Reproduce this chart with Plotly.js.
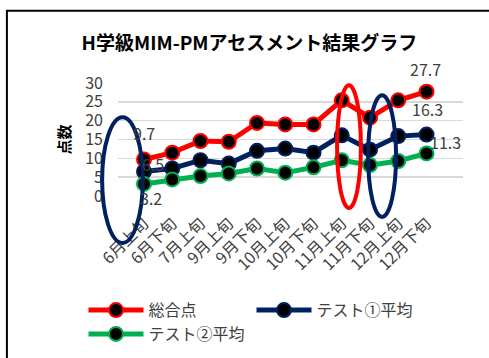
<!DOCTYPE html>
<html>
<head>
<meta charset="utf-8">
<script src="https://cdn.plot.ly/plotly-3.0.1.min.js"></script>
<style>html,body{margin:0;padding:0;background:#fff;}#chart{width:489px;height:358px;}</style>
</head>
<body>
<div id="chart"></div>
<script>
const categories = ["6月上旬","6月下旬","7月上旬","9月上旬","9月下旬","10月上旬","10月下旬","11月上旬","11月下旬","12月上旬","12月下旬"];
const seriesNames = ["総合点","テスト①平均","テスト②平均"];
const totalScore = [9.7, 11.5, 14.6, 14.4, 19.4, 19.0, 19.0, 25.4, 20.8, 25.4, 27.7];
const test1Avg = [6.5, 7.3, 9.5, 8.6, 12.0, 12.6, 11.5, 16.1, 12.3, 15.9, 16.3];
const test2Avg = [3.2, 4.4, 5.3, 6.0, 7.3, 6.2, 7.6, 9.5, 8.2, 9.3, 11.3];
const yTicks = [0, 5, 10, 15, 20, 25, 30];

const FONT = '"Noto Sans CJK JP", "Noto Sans", sans-serif';
const colors = ["#ff0000", "#002060", "#00b050"];
const allSeries = [totalScore, test1Avg, test2Avg];

const traces = allSeries.map((vals, i) => ({
  type: 'scatter', mode: 'lines+markers',
  name: seriesNames[i], x: categories, y: vals,
  line: {color: colors[i], width: 5},
  marker: {color: '#000000', size: 14, line: {color: colors[i], width: 2}},
  cliponaxis: false
}));

// data labels at first and last points (shift in px, up = positive)
const labelOffsets = [
  [{dx: 0, dy: 26}, {dx: -1, dy: 23}],
  [{dx: 9, dy: 8}, {dx: 1, dy: 26}],
  [{dx: 7, dy: -14}, {dx: 19, dy: 11}]
];
const annotations = [];
allSeries.forEach((vals, i) => {
  [0, vals.length - 1].forEach((idx, k) => {
    annotations.push({
      x: categories[idx], y: vals[idx], xref: 'x', yref: 'y',
      text: vals[idx].toFixed(1), showarrow: false,
      xshift: labelOffsets[i][k].dx, yshift: labelOffsets[i][k].dy,
      font: {family: FONT, size: 16, color: '#404040'}
    });
  });
});

const layout = {
  width: 489, height: 358,
  paper_bgcolor: '#ffffff', plot_bgcolor: '#ffffff',
  margin: {l: 118, r: 26, t: 83, b: 162, autoexpand: false},
  showlegend: true,
  title: {
    text: '<b>H学級MIM-PMアセスメント結果グラフ</b>',
    font: {family: FONT, size: 19, color: '#000000'},
    x: 0.51, xanchor: 'center', y: 0.88, yanchor: 'middle'
  },
  xaxis: {
    type: 'category', tickangle: -45, showgrid: false, zeroline: false,
    showline: false, ticks: '', ticklabelstandoff: 14,
    tickfont: {family: FONT, size: 16, color: '#404040'},
    automargin: false
  },
  yaxis: {
    range: [0, 30], tickvals: yTicks, showgrid: true, gridcolor: '#d9d9d9', gridwidth: 1.5,
    zeroline: false, showline: false, ticks: '', ticklabelstandoff: 14,
    tickfont: {family: FONT, size: 16, color: '#404040'},
    title: {text: '<b>点数</b>', font: {family: FONT, size: 15, color: '#000000'}, standoff: 10},
    automargin: false
  },
  legend: {
    orientation: 'h', x: -0.1, xanchor: 'left', y: -0.86, yanchor: 'top',
    entrywidth: 98, entrywidthmode: 'pixels', itemwidth: 55,
    font: {family: FONT, size: 16, color: '#404040'},
    tracegroupgap: 0
  },
  annotations: annotations,
  shapes: [
    {type: 'rect', xref: 'paper', yref: 'paper', x0: -0.322, x1: 1.1, y0: -1.5, y1: 1.64,
     line: {color: '#000000', width: 2}, fillcolor: 'rgba(0,0,0,0)', layer: 'below'},
    {type: 'circle', xref: 'paper', yref: 'paper', x0: -0.046, x1: 0.072, y0: -0.415, y1: 0.697,
     line: {color: '#002060', width: 4}, layer: 'above'},
    {type: 'circle', xref: 'paper', yref: 'paper', x0: 0.635, x1: 0.704, y0: -0.106, y1: 0.98,
     line: {color: '#ff0000', width: 4}, layer: 'above'},
    {type: 'circle', xref: 'paper', yref: 'paper', x0: 0.725, x1: 0.806, y0: -0.185, y1: 0.891,
     line: {color: '#002060', width: 4}, layer: 'above'}
  ]
};

Plotly.newPlot('chart', traces, layout, {displayModeBar: false, staticPlot: true});
</script>
</body>
</html>
